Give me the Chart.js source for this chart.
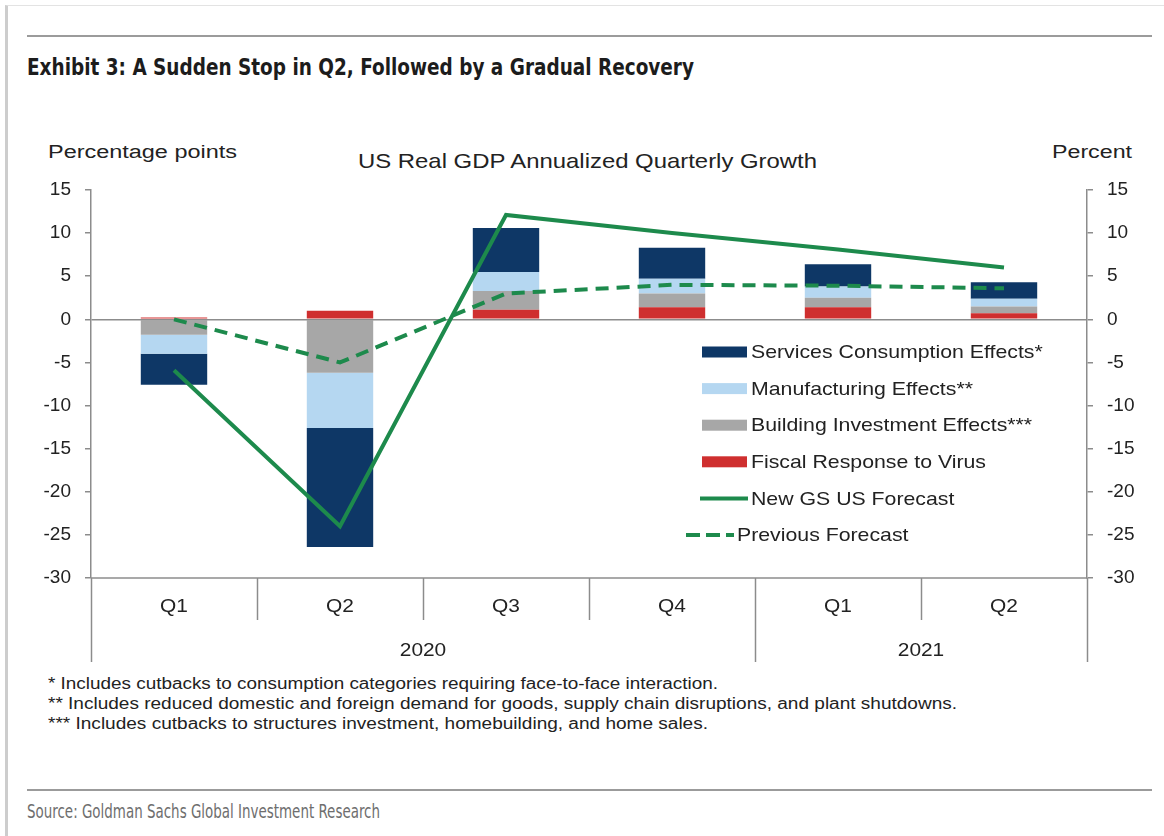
<!DOCTYPE html>
<html>
<head>
<meta charset="utf-8">
<title>US Real GDP Annualized Quarterly Growth</title>
<script src="https://cdn.jsdelivr.net/npm/chart.js@4.4.1/dist/chart.umd.min.js"></script>
<style>
  body { margin: 0; width: 1164px; height: 836px; overflow: hidden; background: #fff; position: relative;
         font-family: "Liberation Sans", Arial, sans-serif; color: #222; }
  .frame { position: absolute; left: 5px; top: 5px; width: 1159px; height: 840px; box-sizing: border-box;
           border-left: 3px solid #cdcdcd; border-top: 1px solid #e3e3e3; }
  .rule { position: absolute; left: 27px; width: 1125px; height: 2px; background: #9b9b9b; }
  .txt { position: absolute; white-space: nowrap; line-height: 1; transform-origin: 0 0; }
  .narrow { font-family: "Liberation Sans Narrow", "DejaVu Sans Condensed", sans-serif; font-stretch: condensed; }
  #chart { position: absolute; left: 0; top: 0; }
</style>
</head>
<body>
<div class="frame"></div>
<div class="rule" style="top:35px"></div>
<div class="txt narrow" data-base="75" data-w="667" style="left:27px; font-size:23px; font-weight:bold; color:#1c1c1c">Exhibit 3: A Sudden Stop in Q2, Followed by a Gradual Recovery</div>

<div class="txt" data-base="158" data-w="189" style="left:48px; font-size:18px">Percentage points</div>
<div class="txt" data-base="168" data-w="459" style="left:358px; font-size:21px">US Real GDP Annualized Quarterly Growth</div>
<div class="txt" data-base="158" data-w="80" style="left:1052px; font-size:18px">Percent</div>

<div class="txt" data-base="690" data-w="670" style="left:48px; font-size:16px">* Includes cutbacks to consumption categories requiring face-to-face interaction.</div>
<div class="txt" data-base="710" data-w="909" style="left:48px; font-size:16px">** Includes reduced domestic and foreign demand for goods, supply chain disruptions, and plant shutdowns.</div>
<div class="txt" data-base="730" data-w="660" style="left:48px; font-size:16px">*** Includes cutbacks to structures investment, homebuilding, and home sales.</div>

<div class="rule" style="top:789px"></div>
<div class="txt narrow" data-base="818" data-w="353" style="left:27px; font-size:19px; color:#6e6e6e">Source: Goldman Sachs Global Investment Research</div>

<canvas id="chart" width="1164" height="836"></canvas>

<script>
// quarters on the category axis, grouped by year
const quarters = ['Q1', 'Q2', 'Q3', 'Q4', 'Q1', 'Q2'];
const years = ['2020', '2021'];
const yearSpans = [4, 2];

// contributions, percentage points
const fiscal = [0.2, 1.0, 1.1, 1.4, 1.4, 0.7];
const building = [-1.8, -6.2, 2.2, 1.6, 1.1, 0.8];
const manufacturing = [-2.2, -6.4, 2.2, 1.7, 1.3, 0.9];
const services = [-3.6, -13.8, 5.1, 3.6, 2.6, 1.9];

// GDP growth forecasts, percent
const newForecast = [-5.9, -24.0, 12.1, 10.0, 8.1, 6.0];
const prevForecast = [0.0, -5.0, 3.0, 4.0, 3.9, 3.6];

// both axes share the same range
const axisMin = -30;
const axisMax = 15;
const axisStep = 5;

const NAVY = '#0e3766';
const LIGHT_BLUE = '#b5d7f1';
const GRAY = '#a7a7a7';
const RED = '#cf2f2f';
const GREEN = '#1d8a4c';
const AXIS = '#8c8c8c';
const TEXT = '#222';
const FONT = '"Liberation Sans", Arial, sans-serif';

// place the html labels on their baselines and stretch them to width
document.querySelectorAll('.txt').forEach(el => {
    const size = parseFloat(getComputedStyle(el).fontSize);
    el.style.top = (el.dataset.base - 0.846 * size) + 'px';
    if (el.dataset.w) {
        const w = el.getBoundingClientRect().width;
        el.style.transform = 'scaleX(' + (el.dataset.w / w) + ')';
    }
});

// text drawn a bit wider than the font's own proportions
function wideText(ctx, text, x, y, align, sx) {
    ctx.save();
    ctx.translate(x, y);
    ctx.scale(sx, 1);
    ctx.textAlign = align;
    ctx.fillText(text, 0, 0);
    ctx.restore();
}

// two-row category axis: quarters, then years with longer dividers
const categoryAxis = {
    id: 'categoryAxis',
    afterDraw(chart) {
        const ctx = chart.ctx;
        const area = chart.chartArea;
        const x = chart.scales.x;
        const step = x.getPixelForValue(1) - x.getPixelForValue(0);
        const edge = i => x.getPixelForValue(0) - step / 2 + i * step;

        const yearEdges = [0];
        yearSpans.forEach(n => yearEdges.push(yearEdges[yearEdges.length - 1] + n));

        ctx.save();
        ctx.strokeStyle = AXIS;
        ctx.lineWidth = 1.5;

        // baseline of the category axis along the bottom of the plot
        ctx.beginPath();
        ctx.moveTo(area.left, area.bottom);
        ctx.lineTo(area.right, area.bottom);
        ctx.stroke();

        for (let i = 0; i <= quarters.length; i++) {
            const px = Math.round(edge(i)) + 0.5;
            const len = yearEdges.includes(i) ? 84 : 42;
            ctx.beginPath();
            ctx.moveTo(px, area.bottom);
            ctx.lineTo(px, area.bottom + len);
            ctx.stroke();
        }

        ctx.fillStyle = TEXT;
        ctx.font = '19px ' + FONT;
        ctx.textBaseline = 'alphabetic';
        quarters.forEach((q, i) => wideText(ctx, q, x.getPixelForValue(i), area.bottom + 34, 'center', 1.1));
        years.forEach((yr, k) => {
            const mid = (edge(yearEdges[k]) + edge(yearEdges[k + 1])) / 2;
            wideText(ctx, yr, mid, area.bottom + 78, 'center', 1.1);
        });
        ctx.restore();
    }
};

// legend inside the plot, services first and forecasts last
const insideLegend = {
    id: 'insideLegend',
    afterDraw(chart, args, opts) {
        const ctx = chart.ctx;
        ctx.save();
        ctx.font = '19px ' + FONT;
        ctx.textBaseline = 'middle';
        ctx.fillStyle = TEXT;
        opts.order.forEach((idx, row) => {
            const ds = chart.data.datasets[idx];
            const y = opts.top + row * opts.rowGap;
            const shift = opts.shift[row] || 0;
            const sx = opts.left + shift;
            if (ds.type === 'line') {
                ctx.save();
                ctx.strokeStyle = ds.borderColor;
                ctx.lineWidth = 4;
                ctx.setLineDash(ds.borderDash ? [14, 6] : []);
                ctx.beginPath();
                ctx.moveTo(sx, y);
                ctx.lineTo(sx + opts.swatch + 3, y);
                ctx.stroke();
                ctx.restore();
            } else {
                ctx.fillStyle = ds.backgroundColor;
                ctx.fillRect(sx + 2, y - 5.5, opts.swatch, 11);
                ctx.fillStyle = TEXT;
            }
            wideText(ctx, ds.label, sx + opts.swatch + 6, y + 1, 'left', 1.12);
        });
        ctx.restore();
    }
};

const tickFont = { family: FONT, size: 19 };

new Chart(document.getElementById('chart'), {
    data: {
        labels: quarters,
        datasets: [
            { type: 'line', label: 'New GS US Forecast', data: newForecast, yAxisID: 'y2',
              borderColor: GREEN, borderWidth: 4, pointRadius: 0, tension: 0, order: 0 },
            { type: 'line', label: 'Previous Forecast', data: prevForecast, yAxisID: 'y2',
              borderColor: GREEN, borderWidth: 4, borderDash: [13, 8], pointRadius: 0, tension: 0, order: 0 },
            { type: 'bar', label: 'Fiscal Response to Virus', data: fiscal, backgroundColor: RED, order: 1 },
            { type: 'bar', label: 'Building Investment Effects***', data: building, backgroundColor: GRAY, order: 1 },
            { type: 'bar', label: 'Manufacturing Effects**', data: manufacturing, backgroundColor: LIGHT_BLUE, order: 1 },
            { type: 'bar', label: 'Services Consumption Effects*', data: services, backgroundColor: NAVY, order: 1 }
        ]
    },
    options: {
        responsive: false,
        animation: false,
        devicePixelRatio: 1,
        layout: { padding: { top: 190, bottom: 258, left: 0, right: 0 } },
        datasets: { bar: { categoryPercentage: 1, barPercentage: 0.4, borderWidth: 0 } },
        scales: {
            x: { stacked: true, display: false },
            y: {
                position: 'left', stacked: true, min: axisMin, max: axisMax,
                afterFit: scale => { scale.width = 91; },
                ticks: { stepSize: axisStep, color: TEXT, font: tickFont, padding: 14 },
                grid: {
                    color: c => (c.tick && c.tick.value === 0) ? AXIS : 'rgba(0,0,0,0)',
                    tickColor: AXIS, tickLength: 6, lineWidth: 1.5
                },
                border: { display: true, color: AXIS, width: 1.5 }
            },
            y2: {
                position: 'right', min: axisMin, max: axisMax,
                afterFit: scale => { scale.width = 77; },
                ticks: { stepSize: axisStep, color: TEXT, font: tickFont, padding: 14 },
                grid: { drawOnChartArea: false, tickColor: AXIS, tickLength: 6, lineWidth: 1.5 },
                border: { display: true, color: AXIS, width: 1.5 }
            }
        },
        plugins: {
            legend: { display: false },
            tooltip: { enabled: false },
            insideLegend: {
                order: [5, 4, 3, 2, 0, 1],
                left: 700, top: 352, rowGap: 36.6, swatch: 45,
                shift: [0, 0, 0, 0, 0, -14]
            }
        }
    },
    plugins: [categoryAxis, insideLegend]
});
</script>
</body>
</html>
